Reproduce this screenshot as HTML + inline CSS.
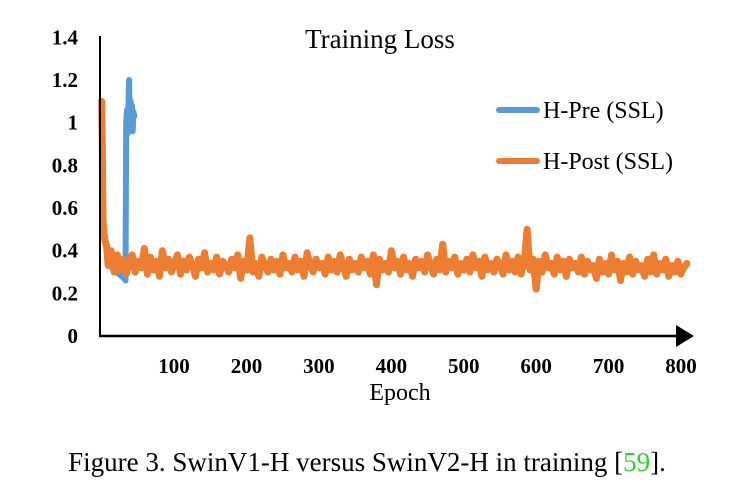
<!DOCTYPE html>
<html><head><meta charset="utf-8">
<style>
body{margin:0;background:#fff;width:746px;height:485px;overflow:hidden;font-family:"Liberation Serif",serif;}
svg text{font-family:"Liberation Serif",serif;}
</style></head>
<body>
<svg id="chart" width="746" height="485" viewBox="0 0 746 485" xmlns="http://www.w3.org/2000/svg">
<text x="380" y="48" font-size="27" text-anchor="middle">Training Loss</text>
<g id="yticks"></g><g id="xticks"></g>
<g id="series"></g>
<line x1="100" y1="36" x2="100" y2="337" stroke="#000" stroke-width="2"/>
<line x1="99" y1="336" x2="678" y2="336" stroke="#000" stroke-width="2.5"/>
<polygon points="676,325 694,336 676,347" fill="#000"/>
<text x="400" y="400" font-size="24" text-anchor="middle">Epoch</text>
<g>
<line x1="499" y1="110" x2="537" y2="110" stroke="#5b9bd5" stroke-width="6" stroke-linecap="round"/>
<text x="543" y="118" font-size="24">H-Pre (SSL)</text>
<line x1="499" y1="161" x2="537" y2="161" stroke="#ed7d31" stroke-width="6" stroke-linecap="round"/>
<text x="543" y="169" font-size="24">H-Post (SSL)</text>
</g>
<text x="367" y="471" font-size="27" text-anchor="middle">Figure 3. SwinV1-H versus SwinV2-H in training [<tspan fill="#2bd22b">59</tspan>].</text>
</svg>
<script>
const yTicks=[0,0.2,0.4,0.6,0.8,1,1.2,1.4];
const yTickLabels=["0","0.2","0.4","0.6","0.8","1","1.2","1.4"];
const xTicks=[100,200,300,400,500,600,700,800];
const preEpochs=[0,1,2,3,5,7,10,13,16,20,24,28,31,33,34,35,36,37,38,39,40,41,42,43,44,45];
const preLoss=[1.1,0.8,0.55,0.5,0.46,0.4,0.36,0.33,0.31,0.3,0.29,0.28,0.27,0.26,1.0,1.06,0.95,1.08,1.2,1.0,1.1,0.98,1.08,0.96,1.05,1.03];
const postHead=[1.1,0.9,0.55,0.48,0.44,0.42];
const postHeadEpochs=[0,1,2,3,5,7];
const postLoss=[0.33,0.40,0.30,0.38,0.31,0.36,0.29,0.34,0.38,0.30,0.35,0.32,0.41,0.29,0.37,0.31,0.35,0.28,0.40,0.32,0.36,0.30,0.34,0.38,0.29,0.35,0.31,0.37,0.33,0.28,0.36,0.32,0.39,0.30,0.34,0.31,0.37,0.29,0.35,0.33,0.30,0.36,0.32,0.38,0.27,0.35,0.31,0.46,0.30,0.34,0.28,0.37,0.33,0.30,0.36,0.31,0.35,0.29,0.38,0.32,0.34,0.30,0.37,0.31,0.35,0.28,0.39,0.33,0.30,0.36,0.32,0.34,0.29,0.37,0.31,0.35,0.30,0.38,0.33,0.28,0.36,0.31,0.34,0.30,0.37,0.32,0.35,0.29,0.38,0.24,0.36,0.31,0.34,0.30,0.40,0.32,0.35,0.29,0.37,0.31,0.34,0.28,0.36,0.32,0.35,0.30,0.38,0.33,0.29,0.36,0.31,0.43,0.30,0.35,0.32,0.37,0.29,0.34,0.31,0.36,0.30,0.38,0.32,0.35,0.28,0.37,0.31,0.34,0.30,0.36,0.33,0.29,0.38,0.31,0.35,0.30,0.37,0.29,0.34,0.50,0.31,0.36,0.22,0.35,0.30,0.38,0.32,0.34,0.29,0.37,0.31,0.35,0.28,0.36,0.32,0.34,0.30,0.37,0.29,0.35,0.31,0.33,0.27,0.36,0.30,0.34,0.29,0.38,0.31,0.35,0.26,0.34,0.30,0.37,0.29,0.35,0.31,0.33,0.28,0.36,0.30,0.38,0.29,0.34,0.31,0.36,0.28,0.33,0.30,0.35,0.29,0.32,0.34];
const postStart=9, postEnd=808;

const NS="http://www.w3.org/2000/svg";
const sx=e=>101.6+e*0.7243;
const sy=v=>336-v*213.3;
const yg=document.getElementById('yticks'), xg=document.getElementById('xticks'), sg=document.getElementById('series');
yTicks.forEach((v,i)=>{const t=document.createElementNS(NS,'text');


t.setAttribute('x',78);t.setAttribute('y',sy(v)+7);t.setAttribute('font-size','21');t.setAttribute('font-weight','bold');t.setAttribute('text-anchor','end');t.textContent=yTickLabels[i];yg.appendChild(t);});
xTicks.forEach(v=>{const t=document.createElementNS(NS,'text');


t.setAttribute('x',sx(v));t.setAttribute('y',373);t.setAttribute('font-size','21');t.setAttribute('font-weight','bold');t.setAttribute('text-anchor','middle');t.textContent=v;xg.appendChild(t);});
function line(pts,color,name,w){const p=document.createElementNS(NS,'polyline');


p.setAttribute('points',pts.map(q=>sx(q[0]).toFixed(1)+','+sy(q[1]).toFixed(1)).join(' '));
p.setAttribute('fill','none');p.setAttribute('stroke',color);p.setAttribute('stroke-width',w);p.setAttribute('stroke-linejoin','round');p.setAttribute('stroke-linecap','round');sg.appendChild(p);}
line(preEpochs.map((e,i)=>[e,preLoss[i]]),'#5b9bd5','series-h-pre',6);
const step=(postEnd-postStart)/(postLoss.length-1);
const post=postHeadEpochs.map((e,i)=>[e,postHead[i]]).concat(postLoss.map((v,i)=>[postStart+i*step,v]));
line(post,'#ed7d31','series-h-post',7);
</script>
</body></html>
